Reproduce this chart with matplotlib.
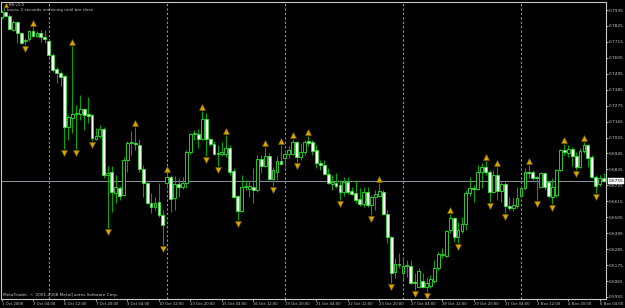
import matplotlib
matplotlib.use("Agg")
import matplotlib.pyplot as plt
from matplotlib.transforms import offset_copy, blended_transform_factory

# AUDUSD H4, ceny w punktach (x 0.0001)
opens = [7887, 7921, 7894, 7797, 7852, 7776, 7724, 7735, 7790, 7756,
         7776, 7749, 7721, 7625, 7528, 7500, 7480, 7128, 7190, 7217,
         7217, 7252, 7217, 7211, 7045, 7066, 7114, 6797, 6817, 6672,
         6707, 6659, 6900, 7017, 7017, 7004, 6838, 6741, 6603, 6576,
         6610, 6521, 6741, 6783, 6638, 6734, 6714, 6741, 6955, 7079,
         7079, 7045, 7183, 7045, 7010, 6941, 6941, 6941, 6983, 6824,
         6652, 6548, 6714, 6700, 6714, 6693, 6907, 6859, 6928, 6769,
         6817, 6893, 6914, 6941, 6941, 7024, 6921, 6955, 7031, 7024,
         6969, 6879, 6866, 6803, 6734, 6741, 6728, 6679, 6748, 6686,
         6672, 6631, 6596, 6679, 6590, 6645, 6652, 6679, 6528, 6369,
         6127, 6176, 6120, 6169, 6169, 6058, 6024, 6065, 6024, 6031,
         6065, 6155, 6244, 6238, 6417, 6500, 6369, 6410, 6458, 6672,
         6707, 6700, 6817, 6852, 6817, 6679, 6797, 6686, 6734, 6583,
         6569, 6583, 6652, 6707, 6817, 6817, 6783, 6714, 6810, 6748,
         6645, 6659, 6831, 6969, 6948, 6976, 6928, 6852, 6962, 7004,
         6921, 6783, 6734, 6776]
highs = [7935, 7928, 7907, 7866, 7859, 7783, 7742, 7797, 7818, 7790,
         7797, 7797, 7728, 7638, 7542, 7514, 7487, 7211, 7687, 7280,
         7349, 7259, 7335, 7217, 7121, 7142, 7128, 6859, 6859, 6797,
         6721, 6921, 7031, 7100, 7128, 7045, 6866, 6762, 6672, 6645,
         6741, 6555, 6810, 6797, 6790, 6776, 6783, 6969, 7086, 7107,
         7114, 7238, 7224, 7052, 7031, 7004, 7024, 7073, 7004, 6845,
         6659, 6797, 6762, 6762, 6845, 6935, 6935, 6990, 6948, 6852,
         6928, 7004, 6969, 6997, 7045, 7031, 7017, 7038, 7066, 7038,
         7004, 6900, 6900, 6845, 6797, 6810, 6762, 6783, 6783, 6714,
         6762, 6707, 6714, 6714, 6659, 6693, 6741, 6693, 6555, 6376,
         6224, 6258, 6231, 6210, 6210, 6120, 6155, 6120, 6093, 6107,
         6210, 6265, 6293, 6417, 6528, 6507, 6472, 6507, 6693, 6783,
         6728, 6866, 6879, 6893, 6831, 6831, 6852, 6748, 6748, 6645,
         6645, 6714, 6728, 6845, 6866, 6831, 6790, 6817, 6817, 6762,
         6776, 6838, 6976, 7010, 7004, 6990, 6955, 6983, 7024, 7010,
         6935, 6797, 6797, 6810]
lows = [7873, 7887, 7797, 7790, 7707, 7700, 7694, 7721, 7749, 7749,
        7714, 7707, 7618, 7507, 7431, 7411, 6976, 7038, 7086, 6976,
        7176, 7107, 7155, 7031, 7040, 7052, 6776, 6431, 6541, 6603,
        6624, 6652, 6817, 6935, 6969, 6817, 6645, 6596, 6534, 6555,
        6507, 6314, 6707, 6541, 6555, 6645, 6700, 6707, 6941, 7038,
        6983, 7038, 6928, 6997, 6935, 6859, 6928, 6921, 6797, 6638,
        6486, 6541, 6693, 6645, 6603, 6679, 6810, 6852, 6762, 6721,
        6762, 6866, 6852, 6914, 6935, 6886, 6900, 6935, 6997, 6935,
        6845, 6831, 6797, 6734, 6693, 6707, 6624, 6652, 6665, 6659,
        6603, 6583, 6576, 6576, 6521, 6555, 6645, 6521, 6327, 6051,
        6086, 6155, 6072, 6093, 6044, 6003, 6017, 6017, 5989, 6017,
        6051, 6141, 6224, 6231, 6396, 6334, 6327, 6396, 6417, 6652,
        6610, 6693, 6707, 6797, 6610, 6672, 6624, 6610, 6534, 6555,
        6548, 6569, 6645, 6693, 6776, 6762, 6624, 6707, 6693, 6638,
        6596, 6645, 6824, 6935, 6921, 6859, 6831, 6845, 6948, 6852,
        6776, 6672, 6721, 6748]
closes = [7921, 7894, 7804, 7852, 7776, 7707, 7728, 7790, 7756, 7776,
          7749, 7735, 7625, 7521, 7500, 7473, 7128, 7197, 7217, 7224,
          7252, 7211, 7204, 7052, 7066, 7114, 6797, 6810, 6679, 6714,
          6652, 6900, 7017, 7024, 7010, 6838, 6741, 6603, 6576, 6603,
          6521, 6452, 6783, 6631, 6734, 6714, 6741, 6955, 7079, 7086,
          7045, 7183, 7045, 7010, 6941, 6948, 6955, 6983, 6817, 6645,
          6548, 6714, 6721, 6721, 6693, 6907, 6859, 6928, 6769, 6831,
          6893, 6872, 6941, 6969, 7024, 6921, 6955, 7024, 7017, 6962,
          6879, 6866, 6803, 6741, 6748, 6721, 6679, 6748, 6679, 6665,
          6624, 6596, 6679, 6590, 6645, 6665, 6686, 6528, 6369, 6120,
          6182, 6182, 6169, 6176, 6051, 6051, 6134, 6024, 6051, 6079,
          6155, 6251, 6251, 6410, 6500, 6369, 6417, 6458, 6672, 6707,
          6700, 6817, 6852, 6817, 6679, 6797, 6686, 6734, 6583, 6569,
          6590, 6638, 6707, 6817, 6810, 6776, 6776, 6810, 6714, 6652,
          6714, 6831, 6969, 6955, 6976, 6928, 6852, 6962, 7004, 6914,
          6783, 6721, 6776, 6755]

# fraktale (numery swiec)
up_fractals = [8, 18, 34, 42, 51, 57, 67, 71, 74, 78, 96, 114, 123, 126, 134, 143, 148]
down_fractals = [6, 16, 19, 23, 27, 41, 52, 55, 60, 69, 75, 86, 94, 99, 105, 108,
                 116, 124, 128, 136, 140, 146, 151]

# poczatki tygodni (separatory)
week_starts = [12, 42, 72, 102, 132]

price_labels = ["0.7935", "0.7825", "0.7715", "0.7605", "0.7495", "0.7385", "0.7275",
                "0.7165", "0.7055", "0.6945", "0.6835", "0.6725", "0.6615", "0.6505",
                "0.6395", "0.6285", "0.6175", "0.6065", "0.5955"]
time_labels = ["1 Oct 2008", "3 Oct 04:00", "6 Oct 12:00", "7 Oct 20:00", "9 Oct 04:00",
               "10 Oct 12:00", "13 Oct 20:00", "15 Oct 04:00", "16 Oct 12:00",
               "19 Oct 20:00", "21 Oct 04:00", "22 Oct 12:00", "23 Oct 20:00",
               "27 Oct 04:00", "28 Oct 12:00", "29 Oct 20:00", "31 Oct 04:00",
               "3 Nov 12:00", "4 Nov 20:00", "6 Nov 04:00"]
label_step = 8

o = [v / 10000 for v in opens]
h = [v / 10000 for v in highs]
l = [v / 10000 for v in lows]
c = [v / 10000 for v in closes]
n = len(o)
x = list(range(n))

fig = plt.figure(figsize=(6.25, 3.08), dpi=100, facecolor="black")
ax = fig.add_axes([1 / 625, 9 / 308, 605 / 625, 297 / 308], facecolor="black")

fg = "#c8c8c8"
sep_col = "#8a96a3"

for wk in week_starts:
    ax.axvline(wk, color=sep_col, lw=0.8, ls=(0, (2, 2)), zorder=1)

ax.axhline(c[-1], color="#8a96a3", lw=0.7, zorder=1)

# knoty
ax.vlines(x, l, h, color="#00a800", lw=0.75, zorder=2)

# korpusy
bottoms = [min(a, b) for a, b in zip(o, c)]
heights = [max(abs(b - a), 0.00012) for a, b in zip(o, c)]
fills = ["black" if b > a else "white" for a, b in zip(o, c)]
ax.bar(x, heights, bottom=bottoms, width=0.72, color=fills,
       edgecolor="#30e830", linewidth=0.6, zorder=3)

# fraktale
tr_up = offset_copy(ax.transData, fig=fig, y=3.0, units="points")
tr_dn = offset_copy(ax.transData, fig=fig, y=-3.0, units="points")
ax.plot(up_fractals, [h[i] for i in up_fractals], ls="none", marker="^", ms=4.2,
        mfc="#d8a800", mec="#7a5c00", mew=0.4, transform=tr_up, zorder=4)
ax.plot(down_fractals, [l[i] for i in down_fractals], ls="none", marker="v", ms=4.2,
        mfc="#d8a800", mec="#7a5c00", mew=0.4, transform=tr_dn, zorder=4)

ax.set_xlim(-0.13, 153.6)
ax.set_ylim(0.59409, 0.79902)

for s in ["top", "bottom", "left", "right"]:
    ax.spines[s].set_color(fg)
    ax.spines[s].set_linewidth(0.8)

yt = [float(p) for p in price_labels]
ax.yaxis.tick_right()
ax.set_yticks(yt)
ax.set_yticklabels(price_labels)
ax.tick_params(axis="y", colors=fg, length=1.5, width=0.6, pad=0.6, labelsize=3.1)

xt = list(range(0, label_step * len(time_labels), label_step))
ax.set_xticks(xt)
ax.set_xticklabels(time_labels, ha="left")
ax.tick_params(axis="x", colors=fg, length=1.5, width=0.6, pad=0.6, labelsize=2.7)

# ramka z aktualna cena
trans = blended_transform_factory(ax.transAxes, ax.transData)
ax.text(1.004, c[-1], "%.4f" % c[-1], transform=trans, fontsize=3.1, color="black",
        va="center", ha="left",
        bbox=dict(boxstyle="square,pad=0.12", fc="white", ec="white", lw=0.3))

ax.plot([0.008], [0.99], transform=ax.transAxes, marker="^", ms=3.2, mfc="#d8a800",
        mec="#7a5c00", mew=0.3, ls="none", clip_on=False)
ax.text(0.014, 0.99, "BS v1.0", transform=ax.transAxes, fontsize=2.9,
        color=fg, va="center", ha="left")
ax.text(0.004, 0.973, "3 hours, 2 seconds remaining until bar close", transform=ax.transAxes,
        fontsize=2.9, color=fg, va="center", ha="left")
ax.text(0.004, 0.0135, "MetaTrader, \u00a9 2001-2008 MetaQuotes Software Corp.",
        transform=ax.transAxes, fontsize=3.1, color=fg, va="center", ha="left")

plt.savefig("out.png", dpi=100, facecolor="black")
